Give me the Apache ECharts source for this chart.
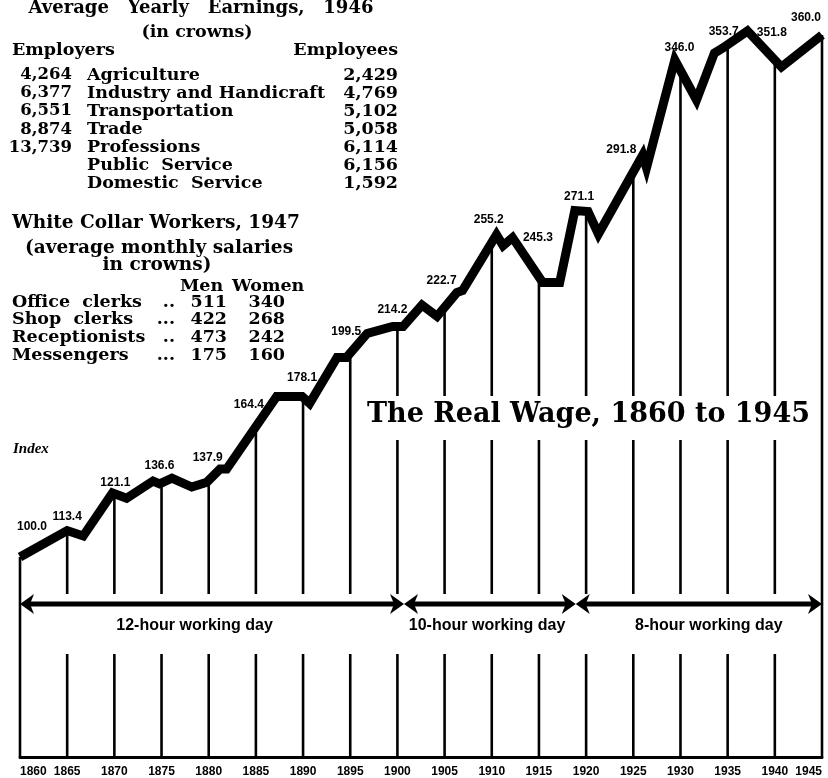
<!DOCTYPE html>
<html><head><meta charset="utf-8">
<script src="https://cdn.jsdelivr.net/npm/echarts@6/dist/echarts.min.js"></script>
<style>html,body{margin:0;padding:0;background:#fff}#c{width:828px;height:778px}</style>
</head><body><div id="c"></div>
<script>
// ---------------- DATA ----------------
const wageYears = [1860,1865,1866.7,1869.8,1871.3,1874.1,1874.8,1876.1,1878.2,1879.8,1881.2,1881.9,1887.2,1889.9,1890.7,1893.6,1894.6,1896.8,1899.5,1900.6,1902.6,1904.2,1906.3,1906.9,1910.5,1911.2,1912.2,1915.4,1917.2,1918.8,1920.2,1921.3,1926.0,1926.4,1929.4,1931.7,1933.6,1934.5,1937.1,1940.7,1945];
const wageIndex = [100,113.2,110.5,132,129.4,138,136.6,139.4,135,137.4,144,144,180.3,180.3,176.8,199.8,199.8,211.8,215.3,215.3,226,220.3,232.2,233.2,261.2,255.7,259.7,237.2,237.2,273.2,272.7,261.5,301,294.6,348.5,328.5,352,354.5,363,345,361];

const tickYears = [1860,1865,1870,1875,1880,1885,1890,1895,1900,1905,1910,1915,1920,1925,1930,1935,1940,1945];
const tickCurve = [100,113.2,131.7,137.0,138.3,165.2,179.9,202,215.3,224.8,257.3,240,272.8,292.5,343.3,356.1,348.5,361];
const tickLabels = ['100.0','113.4','121.1','136.6','137.9','164.4','178.1','199.5','214.2','222.7','255.2','245.3','271.1','291.8','346.0','353.7','351.8','360.0'];

const periodStart = [1860, 1900.7, 1918.9];
const periodEnd = [1900.7, 1918.9, 1945];
const periodLabelYear = [1878.5, 1909.5, 1933];
const periodNames = ['12-hour working day', '10-hour working day', '8-hour working day'];

const earnSectors = ['Agriculture','Industry and Handicraft','Transportation','Trade','Professions','Public  Service','Domestic  Service'];
const earnEmployers = ['4,264','6,377','6,551','8,874','13,739','',''];
const earnEmployees = ['2,429','4,769','5,102','5,058','6,114','6,156','1,592'];

const wcJobs = ['Office  clerks','Shop  clerks','Receptionists','Messengers'];
const wcDots = ['..','...','..','...'];
const wcMen = ['511','422','473','175'];
const wcWomen = ['340','268','242','160'];

// ---------------- LAYOUT / STYLE ----------------
const labelOffsets = [[12,-30],[0,-14],[1,-11],[-2,-17],[-1,-23],[-7,-22],[-1,-20],[-4,-21],[-5,-17],[-3,-27],[-3,-23],[-1,-39],[-7,-15],[-12,-22],[-1,-23],[-4,-13],[-3,-27],[-16,-17]];
const TF = 'bold 17.5px "DejaVu Serif"';
const TF2 = 'bold 18.5px "DejaVu Serif"';
const LBL = 'bold 12px "Liberation Sans", Arial, sans-serif';

function T(x, y, text, align, font) {
  return { type: 'text', x: x, y: y, z: 10,
    style: { text: text, font: font || TF, fill: '#000', align: align || 'left', textAlign: align || 'left', verticalAlign: 'middle', textVerticalAlign: 'middle' } };
}

const g = [];
g.push(T(201, 8, 'Average   Yearly   Earnings,   1946', 'center', 'bold 18px "DejaVu Serif"'));
g.push(T(197, 32, '(in crowns)', 'center'));
g.push(T(12, 50, 'Employers', 'left'));
g.push(T(398, 50, 'Employees', 'right'));
earnSectors.forEach((s, i) => {
  const y = 75 + i * 18.1;
  if (earnEmployers[i]) g.push(T(72, y, earnEmployers[i], 'right', 'bold 16.5px "DejaVu Serif"'));
  g.push(T(87, y, s, 'left'));
  g.push(T(398, y, earnEmployees[i], 'right'));
});
g.push(T(12, 223, 'White Collar Workers, 1947', 'left', TF2));
g.push(T(159, 248, '(average monthly salaries', 'center', TF2));
g.push(T(157, 265, 'in crowns)', 'center', TF2));
g.push(T(180, 286, 'Men', 'left'));
g.push(T(232, 286, 'Women', 'left'));
wcJobs.forEach((s, i) => {
  const y = 302 + i * 17.7;
  g.push(T(12, y, s, 'left'));
  g.push(T(175, y, wcDots[i], 'right'));
  g.push(T(227, y, wcMen[i], 'right'));
  g.push(T(285, y, wcWomen[i], 'right'));
});
g.push(T(13, 449, 'Index', 'left', 'italic bold 15px "Liberation Serif", serif'));

const chart = echarts.init(document.getElementById('c'), null, { renderer: 'canvas' });
const lastIdx = tickYears.length - 1;

chart.setOption({
  animation: false,
  backgroundColor: '#fff',
  title: {
    text: 'The Real Wage, 1860 to 1945',
    left: 362, top: 396,
    padding: [2, 5, 8, 5],
    backgroundColor: '#fff',
    textStyle: { fontFamily: 'DejaVu Serif', fontWeight: 'bold', fontSize: 27, lineHeight: 34, color: '#000' }
  },
  grid: { left: 20, right: 6, top: 7, bottom: 20 },
  xAxis: {
    type: 'value', min: 1860, max: 1945, interval: 5,
    axisLine: { show: true, lineStyle: { color: '#000', width: 3 } },
    axisTick: { show: false },
    splitLine: { show: false },
    axisLabel: { color: '#000', fontWeight: 'bold', fontSize: 12, fontFamily: '"Liberation Sans", Arial, sans-serif', margin: 9,
      formatter: v => String(v), alignMinLabel: 'left', alignMaxLabel: 'right', showMinLabel: true, showMaxLabel: true }
  },
  yAxis: { type: 'value', min: 0, max: 375, show: false, splitLine: { show: false } },
  graphic: { elements: g },
  series: [
    {
      type: 'custom', z: 1, silent: true,
      data: tickYears.map((y, i) => [y, tickCurve[i]]),
      renderItem: function (params, api) {
        const yr = api.value(0), top = api.value(1);
        const pT = api.coord([yr, top]);
        const pB = api.coord([yr, 0]);
        const st = { stroke: '#000', lineWidth: 2.6 };
        if (params.dataIndex === 0 || params.dataIndex === lastIdx) {
          return { type: 'line', shape: { x1: pT[0], y1: pT[1], x2: pT[0], y2: pB[1] }, style: st };
        }
        return { type: 'group', children: [
          { type: 'line', shape: { x1: pT[0], y1: pT[1], x2: pT[0], y2: pB[1] - 163 }, style: st },
          { type: 'line', shape: { x1: pT[0], y1: pB[1] - 103, x2: pT[0], y2: pB[1] }, style: st }
        ] };
      }
    },
    {
      type: 'custom', z: 1, silent: true,
      data: periodStart.map((s, i) => [s, periodEnd[i], periodLabelYear[i]]),
      renderItem: function (params, api) {
        const base = api.coord([1860, 0])[1];
        const yA = base - 153;
        const x0 = api.coord([api.value(0), 0])[0];
        const x1 = api.coord([api.value(1), 0])[0];
        const xl = api.coord([api.value(2), 0])[0];
        return { type: 'group', children: [
          { type: 'line', shape: { x1: x0 + 8, y1: yA, x2: x1 - 8, y2: yA }, style: { stroke: '#000', lineWidth: 5 } },
          { type: 'polygon', shape: { points: [[x0, yA], [x0 + 14, yA - 10], [x0 + 10, yA], [x0 + 14, yA + 10]] }, style: { fill: '#000' } },
          { type: 'polygon', shape: { points: [[x1, yA], [x1 - 14, yA - 10], [x1 - 10, yA], [x1 - 14, yA + 10]] }, style: { fill: '#000' } },
          { type: 'text', x: xl, y: yA + 22, style: { text: periodNames[params.dataIndex], font: 'bold 16px "Liberation Sans", Arial, sans-serif', fill: '#000', align: 'center', textAlign: 'center', verticalAlign: 'middle', textVerticalAlign: 'middle' } }
        ] };
      }
    },
    {
      type: 'line', z: 3, clip: false, silent: true,
      data: wageYears.map((y, i) => [y, wageIndex[i]]),
      symbol: 'none',
      lineStyle: { color: '#000', width: 9, join: 'miter', miterLimit: 4, cap: 'butt' }
    },
    {
      type: 'custom', z: 4, silent: true,
      data: tickYears.map((y, i) => [y, tickCurve[i]]),
      renderItem: function (params, api) {
        const p = api.coord([api.value(0), api.value(1)]);
        const o = labelOffsets[params.dataIndex];
        return { type: 'text', x: p[0] + o[0], y: p[1] + o[1],
          style: { text: tickLabels[params.dataIndex], font: LBL, fill: '#000', align: 'center', textAlign: 'center', verticalAlign: 'middle', textVerticalAlign: 'middle' } };
      }
    }
  ]
});
</script>
</body></html>
